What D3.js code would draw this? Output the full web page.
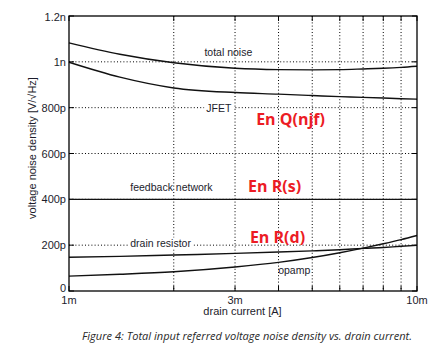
<!DOCTYPE html>
<html>
<head>
<meta charset="utf-8">
<script src="https://cdn.jsdelivr.net/npm/d3@7/dist/d3.min.js"></script>
<style>
  html, body { margin: 0; padding: 0; background: #fff; }
  svg { display: block; }
</style>
</head>
<body>
<svg id="chart" width="440" height="351"></svg>
<script>
// ---- data (current in mA, noise in nV/sqrt(Hz)) ----
const current   = [1, 1.4, 2, 3, 4, 5, 6, 7, 8, 9, 10];
const totalNoise = [1.083, 1.033, 0.996, 0.972, 0.966, 0.965, 0.966, 0.969, 0.972, 0.976, 0.981];
const jfet       = [0.998, 0.933, 0.886, 0.866, 0.859, 0.853, 0.848, 0.845, 0.842, 0.839, 0.837];
const feedback   = [0.4, 0.4, 0.4, 0.4, 0.4, 0.4, 0.4, 0.4, 0.4, 0.4, 0.4];
const drainRes   = [0.147, 0.151, 0.157, 0.164, 0.170, 0.175, 0.180, 0.186, 0.190, 0.195, 0.199];
const opamp      = [0.065, 0.073, 0.084, 0.105, 0.125, 0.146, 0.167, 0.187, 0.206, 0.224, 0.242];

const yTicks = [0, 0.2, 0.4, 0.6, 0.8, 1.0, 1.2];
const yTickLabels = ["0", "200p", "400p", "600p", "800p", "1n", "1.2n"];
const xGrid = [2, 3, 4, 5, 6, 7, 8, 9];
const xTicks = [1, 3, 10];
const xTickLabels = ["1m", "3m", "10m"];

const seriesLabels = [
  {text: "total noise", x: 2.45, y: 1.025, bg: false},
  {text: "JFET", x: 2.48, y: 0.78, bg: true},
  {text: "feedback network", x: 1.5, y: 0.437, bg: false},
  {text: "drain resistor", x: 1.5, y: 0.19, bg: true},
  {text: "opamp", x: 3.99, y: 0.075, bg: false}
];
const redLabels = [
  {text: "En Q(njf)", x: 3.45, y: 0.725},
  {text: "En R(s)", x: 3.27, y: 0.433},
  {text: "En R(d)", x: 3.31, y: 0.21}
];

// ---- layout ----
const L = 69, R = 417, T = 16, B = 291;
const svg = d3.select("#chart");
const x = d3.scaleLog().domain([1, 10]).range([L, R]);
const y = d3.scaleLinear().domain([0, 1.2]).range([B, T]);
const textCol = "#1c1c2c";

// grid
const g = svg.append("g");
g.selectAll(".hg").data(yTicks.filter(v => v > 0 && v < 1.2)).join("line")
  .attr("x1", L).attr("x2", R).attr("y1", d => y(d)).attr("y2", d => y(d))
  .attr("stroke", "#000").attr("stroke-width", 1).attr("stroke-dasharray", "1,2.2");
g.selectAll(".vg").data(xGrid).join("line")
  .attr("y1", T).attr("y2", B).attr("x1", d => x(d)).attr("x2", d => x(d))
  .attr("stroke", "#000").attr("stroke-width", 1).attr("stroke-dasharray", "1,2.2");

// inward ticks on all sides
const tl = 5;
yTicks.forEach(v => {
  g.append("line").attr("x1", L).attr("x2", L + tl).attr("y1", y(v)).attr("y2", y(v)).attr("stroke", "#000");
  g.append("line").attr("x1", R).attr("x2", R - tl).attr("y1", y(v)).attr("y2", y(v)).attr("stroke", "#000");
});
[1].concat(xGrid).concat([10]).forEach(v => {
  g.append("line").attr("x1", x(v)).attr("x2", x(v)).attr("y1", B).attr("y2", B - tl).attr("stroke", "#000");
  g.append("line").attr("x1", x(v)).attr("x2", x(v)).attr("y1", T).attr("y2", T + tl).attr("stroke", "#000");
});

// series labels (black) with optional white background
seriesLabels.forEach(s => {
  const t = svg.append("text").attr("x", x(s.x)).attr("y", y(s.y))
    .attr("font-family", "Liberation Sans, Arial, sans-serif").attr("font-size", 10.5)
    .attr("fill", textCol).text(s.text);
  if (s.bg) {
    const bb = t.node().getBBox();
    svg.insert("rect", "text").attr("x", bb.x - 2).attr("y", bb.y).attr("width", bb.width + 4)
      .attr("height", bb.height).attr("fill", "#fff");
  }
});

// lines
const line = d3.line().x((d, i) => x(current[i])).y(d => y(d)).curve(d3.curveMonotoneX);
[totalNoise, jfet, feedback, drainRes, opamp].forEach(s => {
  svg.append("path").datum(s).attr("d", line).attr("fill", "none")
    .attr("stroke", "#111").attr("stroke-width", 1.4);
});

// frame
svg.append("rect").attr("x", L).attr("y", T).attr("width", R - L).attr("height", B - T)
  .attr("fill", "none").attr("stroke", "#000").attr("stroke-width", 1.3);

// y tick labels
svg.selectAll(".yl").data(yTicks).join("text")
  .attr("x", L - 3).attr("y", (d, i) => y(d) + (i === 6 ? 5 : (i === 0 ? 1 : 4)))
  .attr("text-anchor", "end").attr("font-family", "Liberation Sans, Arial, sans-serif")
  .attr("font-size", 11).attr("fill", textCol).text((d, i) => yTickLabels[i]);

// x tick labels
svg.selectAll(".xl").data(xTicks).join("text")
  .attr("x", d => x(d)).attr("y", 304).attr("text-anchor", "middle")
  .attr("font-family", "Liberation Sans, Arial, sans-serif")
  .attr("font-size", 11).attr("fill", textCol).text((d, i) => xTickLabels[i]);

// axis titles
svg.append("text").attr("x", 242.5).attr("y", 315).attr("text-anchor", "middle")
  .attr("font-family", "Liberation Sans, Arial, sans-serif").attr("font-size", 11)
  .attr("fill", textCol).text("drain current [A]");
svg.append("text").attr("transform", "translate(36,148) rotate(-90)").attr("text-anchor", "middle")
  .attr("font-family", "Liberation Sans, Arial, sans-serif").attr("font-size", 11)
  .attr("fill", textCol).text("voltage noise density [V/\u221AHz]");

// red annotations
redLabels.forEach(s => {
  svg.append("text").attr("x", x(s.x)).attr("y", y(s.y))
    .attr("font-family", "Open Sans, sans-serif").attr("font-weight", "bold")
    .attr("font-size", 16).attr("fill", "#ec1c24").text(s.text);
});

// caption
svg.append("text").attr("x", 82).attr("y", 340)
  .attr("font-family", "Open Sans, sans-serif").attr("font-style", "italic")
  .attr("font-size", 11.5).attr("fill", "#2a2a2a")
  .attr("textLength", 330).attr("lengthAdjust", "spacingAndGlyphs")
  .text("Figure 4: Total input referred voltage noise density vs. drain current.");
</script>
</body>
</html>
